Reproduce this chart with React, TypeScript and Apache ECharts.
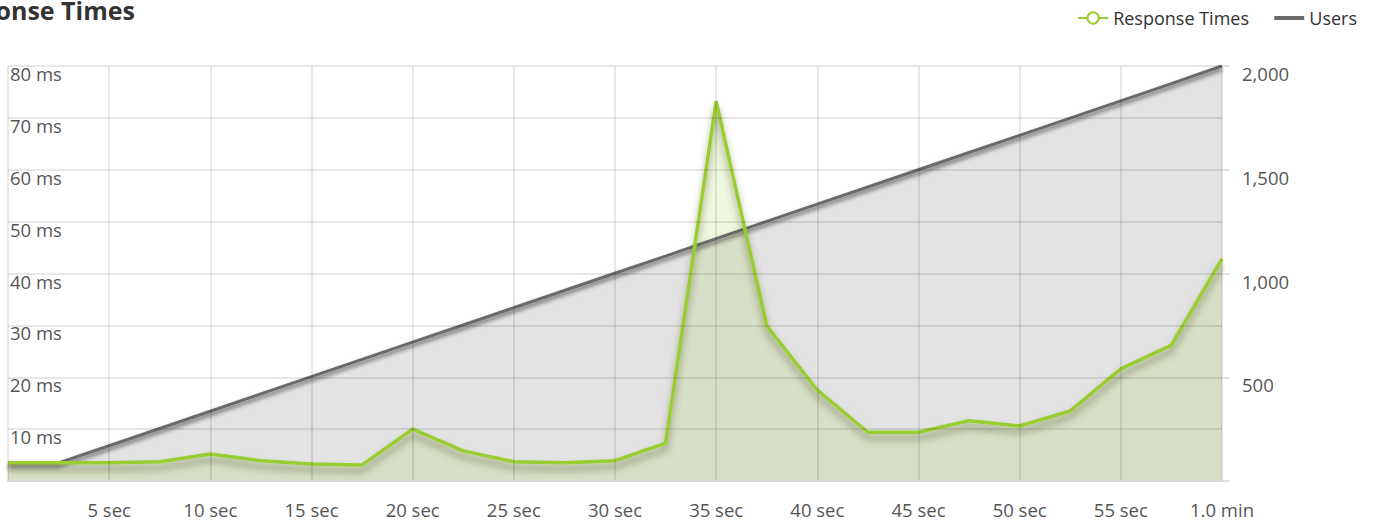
import React, { useEffect, useRef } from "react";
import * as echarts from "echarts";

const seconds = [0, 2.5, 5, 7.5, 10, 12.5, 15, 17.5, 20, 22.5, 25, 27.5, 30, 32.5, 35, 37.5, 40, 42.5, 45, 47.5, 50, 52.5, 55, 57.5, 60];
const responseMs = [3.5, 3.5, 3.5, 3.7, 5.2, 3.9, 3.3, 3.1, 10.0, 5.8, 3.7, 3.5, 3.9, 7.3, 73.2, 29.9, 17.5, 9.4, 9.4, 11.6, 10.6, 13.5, 21.6, 26.2, 42.8];
const users = [87, 87, 170, 253, 336, 420, 503, 586, 669, 752, 835, 918, 1001, 1084, 1168, 1251, 1334, 1417, 1500, 1583, 1666, 1749, 1832, 1915, 2000];
const xTickLabels: Record<number, string> = {
  5: "5 sec", 10: "10 sec", 15: "15 sec", 20: "20 sec", 25: "25 sec", 30: "30 sec",
  35: "35 sec", 40: "40 sec", 45: "45 sec", 50: "50 sec", 55: "55 sec", 60: "1.0 min",
};
const leftTicks: Record<number, string> = {
  10: "10 ms", 20: "20 ms", 30: "30 ms", 40: "40 ms", 50: "50 ms", 60: "60 ms", 70: "70 ms", 80: "80 ms",
};
const rightTicks: Record<number, string> = { 500: "500", 1000: "1,000", 1500: "1,500", 2000: "2,000" };

const FONT = "'Open Sans', 'Noto Sans', sans-serif";

export default function App() {
  const ref = useRef<HTMLDivElement>(null);
  useEffect(() => {
    if (!ref.current) return;
    const chart = echarts.init(ref.current, null, { renderer: "svg" });
    const respData = seconds.map((s, i) => [s, responseMs[i]]);
    const userData = seconds.map((s, i) => [s, users[i]]);
    chart.setOption({
      animation: false,
      textStyle: { fontFamily: FONT },
      graphic: [
        {
          type: "text",
          x: -64,
          y: 10,
          style: {
            text: "Response Times",
            font: `bold 25px ${FONT}`,
            fill: "#333",
            verticalAlign: "middle",
          },
        },
      ],
      legend: [
        {
          right: 124,
          top: 4,
          itemWidth: 30,
          itemHeight: 14,
          textStyle: { fontSize: 18, color: "#333", fontFamily: FONT },
          data: ["Response Times"],
        },
        {
          right: 16,
          top: 4,
          itemWidth: 30,
          itemHeight: 4,
          textStyle: { fontSize: 18, color: "#333", fontFamily: FONT },
          data: [{ name: "Users", icon: "rect" }],
        },
      ],
      grid: { left: 8, right: 156, top: 66, bottom: 44 },
      xAxis: {
        type: "value",
        min: 0,
        max: 60,
        interval: 5,
        z: 5,
        axisLine: { show: true, lineStyle: { color: "#d8d8d8", width: 2 } },
        axisTick: { show: false },
        axisLabel: {
          color: "#555",
          fontSize: 18.5,
          margin: 19,
          fontFamily: FONT,
          formatter: (v: number) => xTickLabels[v] ?? "",
        },
        splitLine: { show: true, lineStyle: { color: "rgba(0,0,0,0.13)", width: 1.5 } },
      },
      yAxis: [
        {
          type: "value",
          min: 0,
          max: 80,
          interval: 10,
          z: 5,
          axisLine: { show: false },
          axisTick: { show: false },
          axisLabel: {
            inside: true,
            margin: 2,
            color: "#555",
            fontSize: 18.5,
            lineHeight: 15,
            fontFamily: FONT,
            verticalAlign: "top",
            formatter: (v: number) => leftTicks[v] ?? "",
          },
          splitLine: { show: true, lineStyle: { color: "rgba(0,0,0,0.13)", width: 1.5 } },
        },
        {
          type: "value",
          min: 0,
          max: 2000,
          interval: 500,
          z: 5,
          position: "right",
          axisLine: { show: false },
          axisTick: { show: true, length: 8, lineStyle: { color: "#d8d8d8", width: 1.5 } },
          axisLabel: {
            margin: 20,
            color: "#555",
            fontSize: 18.5,
            lineHeight: 15,
            fontFamily: FONT,
            verticalAlign: "top",
            formatter: (v: number) => rightTicks[v] ?? "",
          },
          splitLine: { show: false },
        },
      ],
      series: [
        {
          name: "Users",
          type: "line",
          yAxisIndex: 1,
          data: userData,
          symbol: "none",
          itemStyle: { color: "#6a6a6a" },
          lineStyle: {
            color: "#6a6a6a",
            width: 3,
            shadowColor: "rgba(0,0,0,0.6)",
            shadowBlur: 4,
            shadowOffsetY: 3,
          },
          areaStyle: { color: "#e3e3e3", opacity: 1 },
        },
        {
          name: "Response Times",
          type: "line",
          data: respData,
          symbol: "emptyCircle",
          symbolSize: 10,
          showSymbol: false,
          itemStyle: { color: "#9acd32", borderWidth: 2 },
          lineStyle: {
            color: "#9acd32",
            width: 3.5,
            shadowColor: "rgba(70,80,30,0.55)",
            shadowBlur: 7,
            shadowOffsetY: 6,
          },
          areaStyle: { color: "rgba(150,196,30,0.2)" },
        },
      ],
    });
    return () => chart.dispose();
  }, []);
  return (
    <div
      ref={ref}
      style={{ position: "fixed", left: 0, top: 0, width: 1378, height: 525, background: "#fff" }}
    />
  );
}
